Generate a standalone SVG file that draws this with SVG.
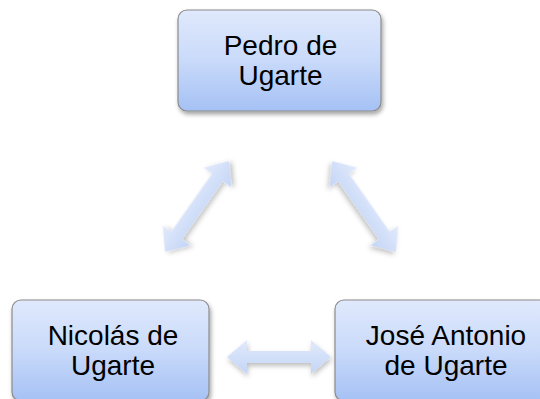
<svg xmlns="http://www.w3.org/2000/svg" width="540" height="399" viewBox="0 0 540 399">
<defs>
<linearGradient id="boxg" x1="0" y1="0" x2="0" y2="1">
<stop offset="0" stop-color="#e0e9fc"/>
<stop offset="0.5" stop-color="#c9dafa"/>
<stop offset="1" stop-color="#a5c1f4"/>
</linearGradient>
<linearGradient id="arrg" x1="0" y1="0" x2="0" y2="1" gradientUnits="userSpaceOnUse" gradientTransform="translate(0,-17) scale(1,34)">
<stop offset="0" stop-color="#e2eafb"/>
<stop offset="1" stop-color="#c3d5f6"/>
</linearGradient>
<filter id="sh" x="-20%" y="-20%" width="140%" height="150%">
<feDropShadow dx="1.5" dy="3" stdDeviation="2" flood-color="#000" flood-opacity="0.35"/>
</filter>
<filter id="ash" x="-30%" y="-60%" width="160%" height="220%">
<feDropShadow dx="1" dy="3" stdDeviation="2.5" flood-color="#000" flood-opacity="0.25"/>
</filter>
<path id="arr111" d="M-55.5,0 L-35.5,-17 L-35.5,-6.5 L35.5,-6.5 L35.5,-17 L55.5,0 L35.5,17 L35.5,6.5 L-35.5,6.5 L-35.5,17 Z"/>
<path id="arr104" d="M-52,0 L-32,-17 L-32,-6 L32,-6 L32,-17 L52,0 L32,17 L32,6 L-32,6 L-32,17 Z"/>
</defs>
<style>
.box{fill:url(#boxg);stroke:#8c8c8c;stroke-width:1.2;filter:url(#sh)}
.lbl{font-family:"Liberation Sans",Arial,sans-serif;font-size:28px;fill:#000;text-anchor:middle}
.arrow{fill:url(#arrg);filter:url(#ash)}
</style>
<g id="connectors">
<use href="#arr111" class="arrow" transform="translate(197,206.5) rotate(-54.9)"/>
<use href="#arr111" class="arrow" transform="translate(364,206.5) rotate(54.9)"/>
<use href="#arr104" class="arrow" transform="translate(279,357)"/>
</g>
<g id="node-pedro">
<rect class="box" x="178" y="10" width="203" height="101" rx="9"/>
<text class="lbl" x="280.5" y="55">Pedro de</text>
<text class="lbl" x="280.5" y="85">Ugarte</text>
</g>
<g id="node-nicolas">
<rect class="box" x="12" y="300" width="197" height="101" rx="9"/>
<text class="lbl" x="113" y="345">Nicolás de</text>
<text class="lbl" x="113" y="375">Ugarte</text>
</g>
<g id="node-jose">
<rect class="box" x="335" y="300" width="220" height="101" rx="9"/>
<text class="lbl" x="446" y="345">José Antonio</text>
<text class="lbl" x="446" y="375">de Ugarte</text>
</g>
</svg>
